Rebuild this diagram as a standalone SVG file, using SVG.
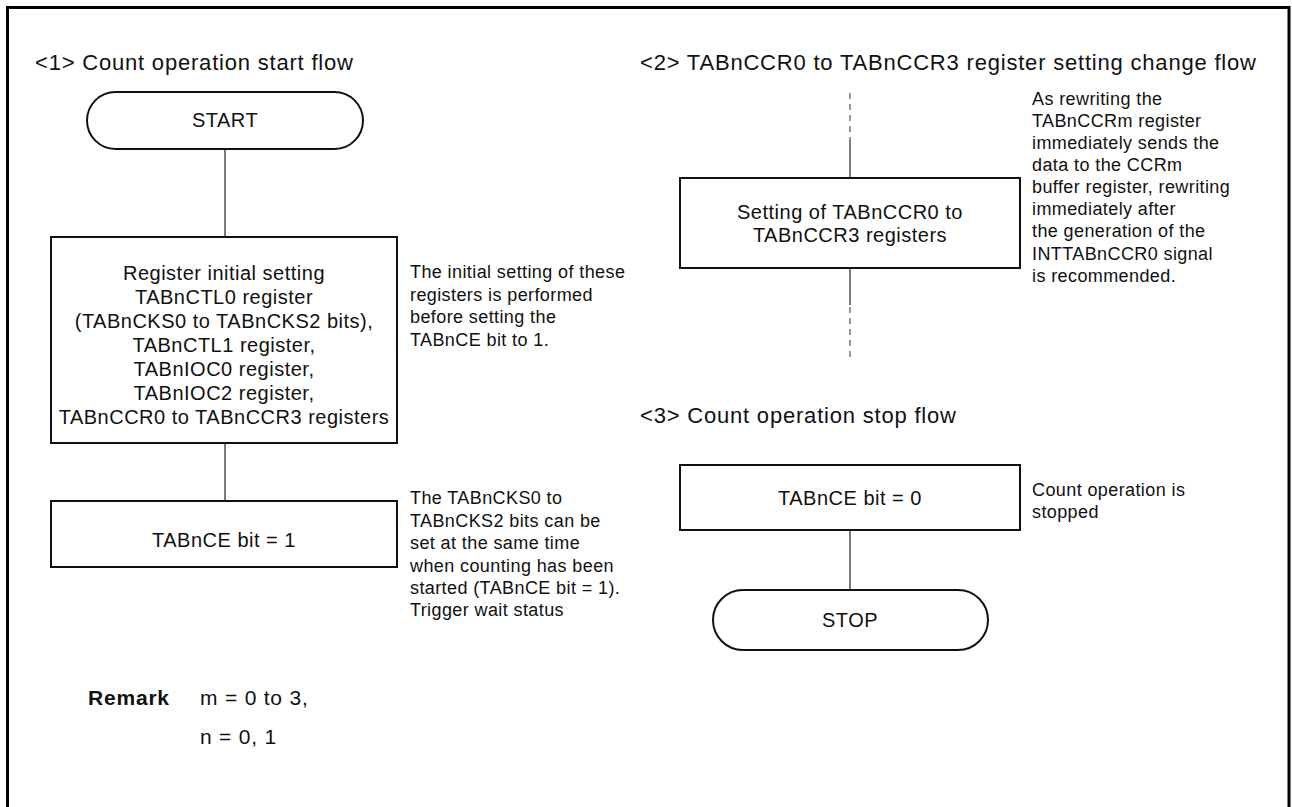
<svg xmlns="http://www.w3.org/2000/svg" width="1292" height="807" viewBox="0 0 1292 807">
<style>
text{font-family:"Liberation Sans",Arial,sans-serif;fill:#111}
.h{font-size:22px;letter-spacing:0.8px}
.b{font-size:20px;letter-spacing:0.5px;text-anchor:middle}
.n{font-size:18px;letter-spacing:0.4px}
.r{font-size:21px;letter-spacing:0.8px}
.box{fill:#fff;stroke:#111;stroke-width:2}
.ln{stroke:#222;stroke-width:1.2;fill:none}
.dash{stroke:#777;stroke-width:1.5;stroke-dasharray:6 5;fill:none}
</style>
<rect x="7.5" y="7.5" width="1281.5" height="830" fill="#fff" stroke="#000" stroke-width="3"/>
<text class="h" x="35" y="70">&lt;1&gt; Count operation start flow</text>
<text class="h" x="640" y="70" letter-spacing="1">&lt;2&gt; TABnCCR0 to TABnCCR3 register setting change flow</text>
<text class="h" x="640" y="423">&lt;3&gt; Count operation stop flow</text>
<g id="connectors">
<line class="ln" x1="225" y1="149" x2="225" y2="237"/>
<line class="ln" x1="225" y1="443" x2="225" y2="501"/>
<line class="dash" x1="850" y1="93" x2="850" y2="140"/>
<line class="ln" x1="850" y1="140" x2="850" y2="178"/>
<line class="ln" x1="850" y1="268" x2="850" y2="305"/>
<line class="dash" x1="850" y1="307" x2="850" y2="357"/>
<line class="ln" x1="850" y1="530" x2="850" y2="590"/>
</g>
<g id="start">
<rect class="box" x="87" y="92" width="276" height="57" rx="28.5" ry="28.5"/>
<text class="b" x="225" y="127">START</text>
</g>
<g id="init">
<rect class="box" x="51" y="237" width="346" height="206"/>
<text class="b" x="224" y="280">Register initial setting</text>
<text class="b" x="224" y="304">TABnCTL0 register</text>
<text class="b" x="224" y="328">(TABnCKS0 to TABnCKS2 bits),</text>
<text class="b" x="224" y="352">TABnCTL1 register,</text>
<text class="b" x="224" y="376">TABnIOC0 register,</text>
<text class="b" x="224" y="400">TABnIOC2 register,</text>
<text class="b" x="224" y="424">TABnCCR0 to TABnCCR3 registers</text>
</g>
<g id="note1">
<text class="n" x="410" y="278">The initial setting of these</text>
<text class="n" x="410" y="301">registers is performed</text>
<text class="n" x="410" y="323">before setting the</text>
<text class="n" x="410" y="346">TABnCE bit to 1.</text>
</g>
<g id="ce1">
<rect class="box" x="51" y="501" width="346" height="66"/>
<text class="b" x="224" y="547">TABnCE bit = 1</text>
</g>
<g id="note2">
<text class="n" x="410" y="504">The TABnCKS0 to</text>
<text class="n" x="410" y="527">TABnCKS2 bits can be</text>
<text class="n" x="410" y="549">set at the same time</text>
<text class="n" x="410" y="572">when counting has been</text>
<text class="n" x="410" y="594">started (TABnCE bit = 1).</text>
<text class="n" x="410" y="616">Trigger wait status</text>
</g>
<g id="ccr">
<rect class="box" x="680" y="178" width="340" height="90"/>
<text class="b" x="850" y="219">Setting of TABnCCR0 to</text>
<text class="b" x="850" y="242">TABnCCR3 registers</text>
</g>
<g id="note3">
<text class="n" x="1032" y="105">As rewriting the</text>
<text class="n" x="1032" y="127">TABnCCRm register</text>
<text class="n" x="1032" y="149">immediately sends the</text>
<text class="n" x="1032" y="171">data to the CCRm</text>
<text class="n" x="1032" y="193">buffer register, rewriting</text>
<text class="n" x="1032" y="215">immediately after</text>
<text class="n" x="1032" y="237">the generation of the</text>
<text class="n" x="1032" y="260">INTTABnCCR0 signal</text>
<text class="n" x="1032" y="282">is recommended.</text>
</g>
<g id="ce0">
<rect class="box" x="680" y="465" width="340" height="65"/>
<text class="b" x="850" y="505">TABnCE bit = 0</text>
</g>
<g id="note4">
<text class="n" x="1032" y="496">Count operation is</text>
<text class="n" x="1032" y="518">stopped</text>
</g>
<g id="stop">
<rect class="box" x="713" y="590" width="275" height="60" rx="30" ry="30"/>
<text class="b" x="850" y="627">STOP</text>
</g>
<g id="remark">
<text class="r" x="88" y="705" font-weight="bold">Remark</text>
<text class="r" x="200" y="705">m = 0 to 3,</text>
<text class="r" x="200" y="744">n = 0, 1</text>
</g>
</svg>
